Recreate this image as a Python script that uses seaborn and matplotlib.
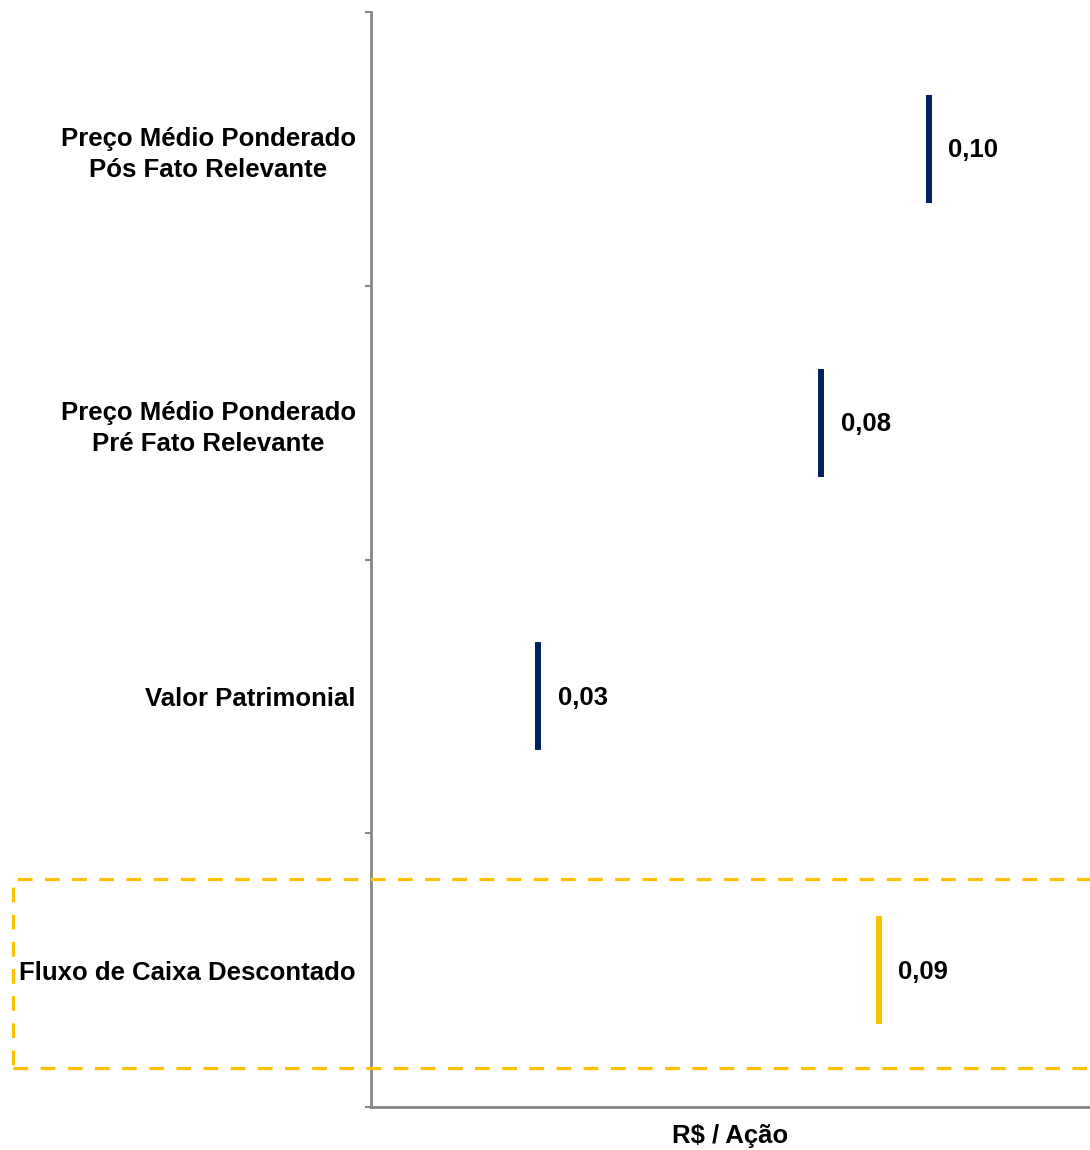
import matplotlib
matplotlib.use("Agg")
import matplotlib.pyplot as plt
import matplotlib.patches as mpatches
import seaborn as sns
import pandas as pd

categories = ["Preço Médio Ponderado\nPós Fato Relevante",
              "Preço Médio Ponderado\nPré Fato Relevante",
              "Valor Patrimonial",
              "Fluxo de Caixa Descontado"]
values = [0.100, 0.0807, 0.030, 0.091]
kinds = ["mercado", "mercado", "mercado", "dcf"]

sns.set_style("white")
plt.rcParams["font.family"] = ["Liberation Sans", "DejaVu Sans"]
plt.rcParams["text.color"] = "black"
plt.rcParams["axes.labelcolor"] = "black"
plt.rcParams["ytick.labelcolor"] = "black"

df = pd.DataFrame({"pos": range(len(categories)), "valor": values, "tipo": kinds})

fig = plt.figure(figsize=(10.9, 11.5), dpi=100)
ax = fig.add_axes([371 / 1090, 1 - 1107 / 1150, 1 - 371 / 1090, (1107 - 12) / 1150])

# vertical markers for each valuation
sns.scatterplot(data=df, x="valor", y="pos", hue="tipo",
                palette={"mercado": "#002060", "dcf": "#FFC000"},
                marker="|", s=6050, linewidth=4.3, legend=False, ax=ax)

for _, r in df.iterrows():
    ax.annotate(f"{r['valor']:.2f}".replace(".", ","), (r["valor"], r["pos"]),
                xytext=(14, -1), textcoords="offset points", va="center", ha="left",
                fontsize=18.5, fontweight="bold", color="black")

ax.set_xlim(0, 0.1289)
ax.set_ylim(len(categories) - 0.5, -0.5)

# boundary ticks between categories, labels at centers
ax.set_yticks([i - 0.5 for i in range(len(categories) + 1)])
ax.set_yticklabels([])
ax.set_yticks(range(len(categories)), minor=True)
ax.set_yticklabels(categories, minor=True, fontsize=18.5, fontweight="bold",
                   multialignment="center", linespacing=1.35, color="black")
ax.tick_params(axis="y", which="major", left=True, length=4, width=1.5, color="#888888")
ax.tick_params(axis="y", which="minor", left=True, length=0, pad=11)
ax.set_xticks([])
ax.set_xlabel("R$ / Ação", fontsize=18.5, fontweight="bold", labelpad=12, color="black")
ax.set_ylabel("")

for side in ["top", "right"]:
    ax.spines[side].set_visible(False)
for side in ["left", "bottom"]:
    ax.spines[side].set_color("#888888")
    ax.spines[side].set_linewidth(2)

# dashed highlight around the DCF row
box = mpatches.Rectangle((13 / 1090, 1 - 1068 / 1150), 1.1, (1068 - 879) / 1150,
                         transform=fig.transFigure, fill=False, edgecolor="#FFC000",
                         linewidth=2.3, linestyle=(0, (4.6, 3.9)), clip_on=False)
fig.add_artist(box)

fig.savefig("out.png", dpi=100)
